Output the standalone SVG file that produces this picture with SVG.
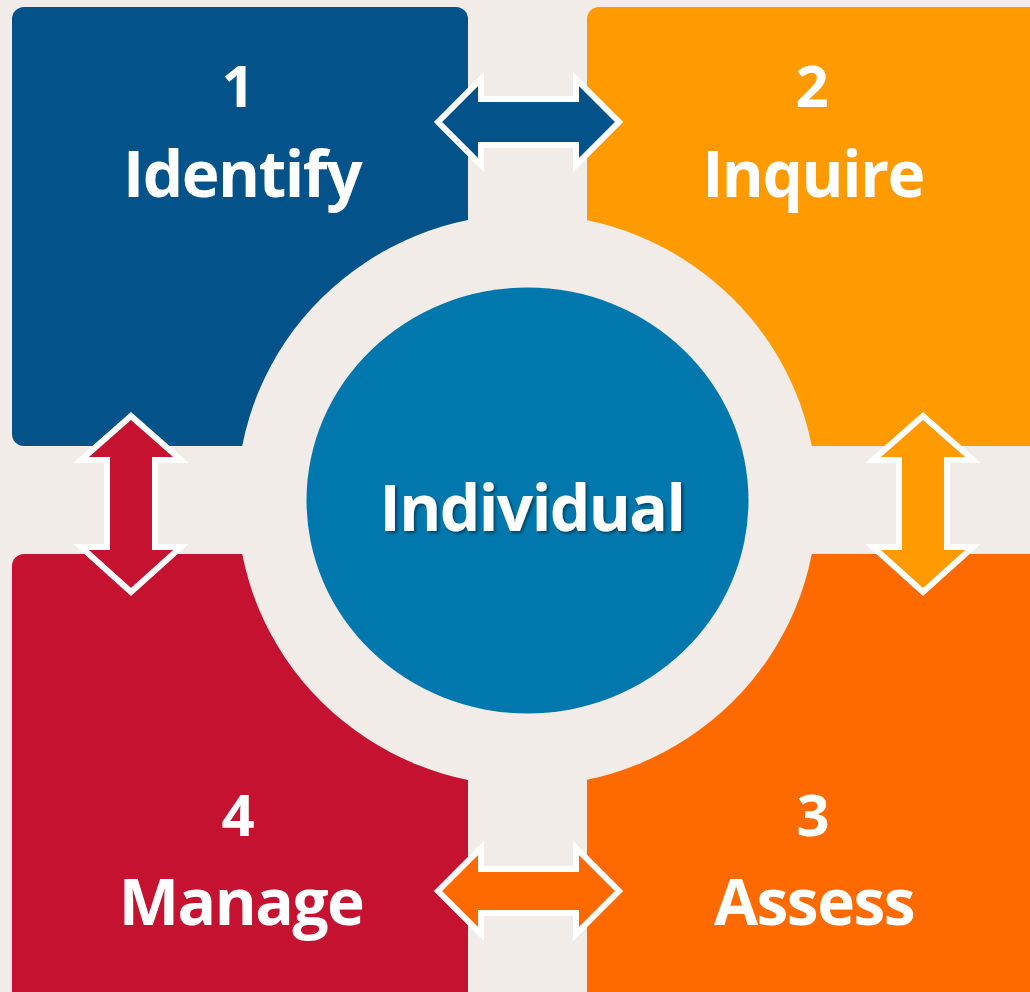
<svg xmlns="http://www.w3.org/2000/svg" width="1030" height="992" viewBox="0 0 1030 992">
  <defs>
    <filter id="shadow" x="-10%" y="-30%" width="120%" height="160%">
      <feDropShadow dx="2" dy="2" stdDeviation="1.5" flood-color="#000" flood-opacity="0.45"/>
    </filter>
  </defs>
  <style>
    .lbl { font-family: "Open Sans", "Noto Sans", "Liberation Sans", sans-serif; font-weight: bold; fill: #FFFFFF; text-anchor: middle; }
    .num { font-size: 58px; }
    .word { font-size: 64px; letter-spacing: -1.5px; }
    .arrow { stroke: #FFFFFF; stroke-width: 6; stroke-linejoin: miter; }
  </style>
  <rect x="0" y="0" width="1030" height="992" fill="#F1ECE8"/>

  <g id="node-identify">
    <rect x="12" y="7" width="456" height="439" rx="12" fill="#03528A"/>
  </g>
  <g id="node-inquire">
    <rect x="587" y="7" width="460" height="439" rx="12" fill="#FF9A00"/>
  </g>
  <g id="node-manage">
    <rect x="12" y="554" width="456" height="450" rx="12" fill="#C41230"/>
  </g>
  <g id="node-assess">
    <rect x="587" y="554" width="460" height="450" rx="12" fill="#FF6A00"/>
  </g>

  <g id="node-individual">
    <ellipse cx="527" cy="500" rx="290" ry="286" fill="#F1ECE8"/>
    <ellipse cx="527.5" cy="500.5" rx="221" ry="213" fill="#0078AE"/>
    <text class="lbl word" x="532" y="531" filter="url(#shadow)">Individual</text>
  </g>

  <g id="connectors">
    <path class="arrow" fill="#03528A" d="M438,122 L481,79 L481,99 L576,99 L576,79 L619,122 L576,165 L576,145 L481,145 L481,165 Z"/>
    <path class="arrow" fill="#FF6A00" d="M438,891 L481,848 L481,869 L576,869 L576,848 L619,891 L576,934 L576,913 L481,913 L481,934 Z"/>
    <path class="arrow" fill="#C41230" d="M131,416 L181,460 L155,460 L155,547 L181,547 L131,592 L81,547 L107,547 L107,460 L81,460 Z"/>
    <path class="arrow" fill="#FF9A00" d="M923,416 L973,460 L947,460 L947,547 L973,547 L923,592 L873,547 L899,547 L899,460 L873,460 Z"/>
  </g>

  <g id="labels">
    <text class="lbl num" x="238" y="107">1</text>
    <text class="lbl word" x="242" y="197">Identify</text>
    <text class="lbl num" x="812" y="107">2</text>
    <text class="lbl word" x="813" y="197">Inquire</text>
    <text class="lbl num" x="813" y="836">3</text>
    <text class="lbl word" x="814" y="925">Assess</text>
    <text class="lbl num" x="238" y="836">4</text>
    <text class="lbl word" x="241" y="925">Manage</text>
  </g>
</svg>
